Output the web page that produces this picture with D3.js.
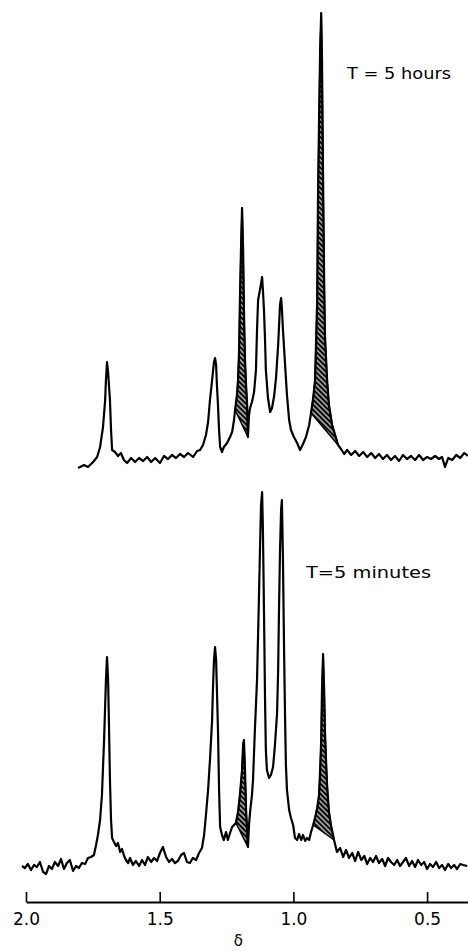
<!DOCTYPE html>
<html>
<head>
<meta charset="utf-8">
<script src="https://cdn.jsdelivr.net/npm/d3@7"></script>
<style>
  html, body { margin: 0; padding: 0; background: #fff; }
  svg { display: block; }
</style>
</head>
<body>
<div id="chart"></div>
<script>
// chemical shift (ppm) and signal height
const topPpm = [1.805,1.783,1.768,1.749,1.734,1.723,1.712,1.704,1.701,1.697,1.693,1.686,1.682,1.678,1.667,1.656,1.645,1.634,1.622,1.607,1.592,1.577,1.562,1.547,1.532,1.517,1.499,1.484,1.469,1.454,1.439,1.424,1.409,1.394,1.375,1.360,1.349,1.338,1.327,1.319,1.312,1.304,1.297,1.293,1.289,1.286,1.282,1.278,1.274,1.267,1.260,1.248,1.237,1.229,1.222,1.218,1.211,1.207,1.203,1.200,1.196,1.192,1.188,1.185,1.181,1.177,1.173,1.170,1.166,1.162,1.155,1.147,1.140,1.136,1.132,1.125,1.117,1.114,1.110,1.106,1.103,1.095,1.087,1.080,1.072,1.065,1.057,1.050,1.046,1.043,1.039,1.031,1.024,1.016,1.009,0.998,0.986,0.975,0.964,0.953,0.941,0.934,0.926,0.919,0.915,0.911,0.908,0.904,0.900,0.896,0.893,0.889,0.885,0.882,0.874,0.867,0.855,0.844,0.833,0.822,0.810,0.799,0.784,0.769,0.754,0.739,0.724,0.709,0.694,0.680,0.665,0.650,0.635,0.620,0.605,0.590,0.575,0.560,0.545,0.530,0.515,0.500,0.485,0.470,0.455,0.444,0.433,0.421,0.406,0.391,0.376,0.361,0.347]
const topInt = [-8,-5,-7,-2,3,13,33,60,80,98,88,60,30,10,8,4,7,0,-3,2,-2,2,-1,3,-2,2,-3,4,1,5,2,6,3,7,3,9,10,15,25,38,60,80,98,102,95,75,55,30,13,8,13,17,23,28,40,50,65,80,110,160,210,252,210,150,100,75,55,23,45,52,58,68,90,130,160,170,183,170,150,120,90,62,48,52,64,82,115,155,162,152,130,95,65,40,30,23,17,10,16,23,35,47,62,80,120,160,260,340,410,447,400,280,180,125,80,55,35,25,15,11,6,10,5,9,4,8,3,7,2,6,1,5,0,4,-1,5,1,4,0,5,0,3,1,4,1,3,-7,2,0,5,2,7,4]

const botPpm = [2.015,2.004,1.993,1.981,1.970,1.959,1.948,1.936,1.925,1.914,1.903,1.892,1.880,1.869,1.858,1.847,1.836,1.824,1.813,1.802,1.791,1.779,1.768,1.757,1.746,1.738,1.731,1.723,1.716,1.708,1.701,1.697,1.693,1.690,1.686,1.682,1.678,1.671,1.663,1.656,1.648,1.641,1.633,1.626,1.618,1.611,1.600,1.589,1.577,1.566,1.555,1.544,1.532,1.521,1.510,1.499,1.488,1.476,1.465,1.454,1.443,1.432,1.420,1.409,1.398,1.387,1.376,1.364,1.353,1.342,1.334,1.327,1.319,1.312,1.304,1.301,1.297,1.293,1.289,1.286,1.282,1.278,1.274,1.267,1.260,1.252,1.245,1.237,1.229,1.222,1.215,1.207,1.200,1.192,1.188,1.185,1.181,1.177,1.173,1.170,1.166,1.162,1.155,1.151,1.144,1.136,1.129,1.125,1.121,1.117,1.114,1.110,1.106,1.103,1.099,1.091,1.084,1.076,1.069,1.061,1.057,1.054,1.050,1.046,1.043,1.039,1.035,1.031,1.028,1.024,1.016,1.009,1.001,0.994,0.986,0.979,0.971,0.964,0.956,0.949,0.941,0.934,0.926,0.919,0.911,0.904,0.900,0.896,0.893,0.889,0.885,0.882,0.878,0.874,0.867,0.859,0.848,0.837,0.825,0.814,0.803,0.792,0.780,0.769,0.758,0.746,0.735,0.724,0.713,0.702,0.691,0.680,0.668,0.657,0.646,0.635,0.623,0.612,0.601,0.590,0.579,0.567,0.556,0.545,0.534,0.522,0.511,0.500,0.489,0.478,0.466,0.455,0.444,0.433,0.421,0.410,0.399,0.388,0.376,0.365,0.350]
const botInt = [-6,-8,-4,-10,-5,-7,-2,-12,-14,-6,-9,-2,-6,1,-9,-3,0,-11,-6,-8,-3,-4,2,3,5,15,25,40,65,120,180,203,180,140,80,40,22,18,14,17,8,11,4,0,-3,2,-5,-1,-6,0,-5,3,-2,2,-1,7,13,3,-2,1,-3,-1,5,7,-2,-3,2,0,7,12,25,45,70,100,140,170,200,213,200,170,130,70,33,25,20,28,20,27,33,35,37,48,65,90,115,120,90,50,30,13,35,48,65,80,130,180,260,310,355,368,330,250,160,110,90,82,85,93,115,147,190,247,310,350,360,300,213,140,95,70,50,42,35,22,20,26,20,25,19,22,20,28,35,42,52,65,90,120,170,206,170,130,100,75,48,34,20,8,12,3,10,2,7,-1,8,0,4,-4,2,-2,4,-3,1,-6,2,-2,-5,0,-6,-2,2,-6,-1,-7,0,-5,-2,-9,-4,-7,-2,-8,-5,-10,-4,-8,-5,-9,-4,-5,-6]

// shaded (hatched) peaks, as ppm ranges
const topHatch = [[1.218, 1.170], [0.934, 0.833]]
const botHatch = [[1.215, 1.170], [0.926, 0.848]]

const tickVals = [2.0, 1.5, 1.0, 0.5]
const topLabel = "T = 5 hours"
const botLabel = "T=5 minutes"
const axisTitle = "δ"

const width = 468
const height = 951

const svg = d3.select("#chart").append("svg")
    .attr("width", width)
    .attr("height", height)

const defs = svg.append("defs")
const pat = defs.append("pattern")
    .attr("id", "hatch")
    .attr("patternUnits", "userSpaceOnUse")
    .attr("width", 3.6)
    .attr("height", 3.6)
    .attr("patternTransform", "rotate(-45)")
pat.append("rect").attr("width", 3.6).attr("height", 3.6).attr("fill", "#000")
pat.append("line")
    .attr("x1", 1.8).attr("y1", 0).attr("x2", 1.8).attr("y2", 3.6)
    .attr("stroke", "#fff").attr("stroke-width", 1.1)

const x = d3.scaleLinear().domain([2.0, 0.347]).range([26, 468])
const yTop = d3.scaleLinear().domain([0, 450]).range([460, 10])
const yBot = d3.scaleLinear().domain([0, 450]).range([860, 410])

function drawSpectrum(ppm, inten, y, hatches) {
    const pts = d3.range(ppm.length).map(i => [ppm[i], inten[i]])
    const line = d3.line().x(d => x(d[0])).y(d => y(d[1]))

    hatches.forEach(([a, b]) => {
        const seg = pts.filter(d => d[0] <= a + 1e-6 && d[0] >= b - 1e-6)
        svg.append("path")
            .attr("d", line(seg) + "Z")
            .attr("fill", "url(#hatch)")
            .attr("stroke", "#000")
            .attr("stroke-width", 1.5)
            .attr("stroke-linejoin", "round")
    })

    svg.append("path")
        .datum(pts)
        .attr("d", line)
        .attr("fill", "none")
        .attr("stroke", "#000")
        .attr("stroke-width", 2.2)
        .attr("stroke-linejoin", "round")
}

drawSpectrum(topPpm, topInt, yTop, topHatch)
drawSpectrum(botPpm, botInt, yBot, botHatch)

// axis with upward ticks
const axis = svg.append("g")
    .attr("transform", "translate(0,902)")
    .call(d3.axisBottom(x)
        .tickValues(tickVals)
        .tickFormat(d3.format(".1f"))
        .tickSizeInner(-10)
        .tickSizeOuter(0)
        .tickPadding(11))
axis.select(".domain").attr("stroke-width", 2)
axis.selectAll(".tick line").attr("stroke-width", 1.6)
axis.selectAll(".tick text")
    .attr("font-family", "DejaVu Sans, sans-serif")
    .attr("font-size", 17)
    .attr("fill", "#000")

svg.append("text")
    .attr("x", x(1.0) - 55)
    .attr("y", 946)
    .attr("text-anchor", "middle")
    .attr("font-family", "DejaVu Sans, sans-serif")
    .attr("font-size", 15)
    .text(axisTitle)

svg.append("text")
    .attr("x", 347).attr("y", 79)
    .attr("font-family", "DejaVu Sans, sans-serif")
    .attr("font-size", 15)
    .attr("textLength", 104)
    .attr("lengthAdjust", "spacingAndGlyphs")
    .text(topLabel)

svg.append("text")
    .attr("x", 306).attr("y", 578)
    .attr("font-family", "DejaVu Sans, sans-serif")
    .attr("font-size", 15)
    .attr("textLength", 125)
    .attr("lengthAdjust", "spacingAndGlyphs")
    .text(botLabel)
</script>
</body>
</html>
